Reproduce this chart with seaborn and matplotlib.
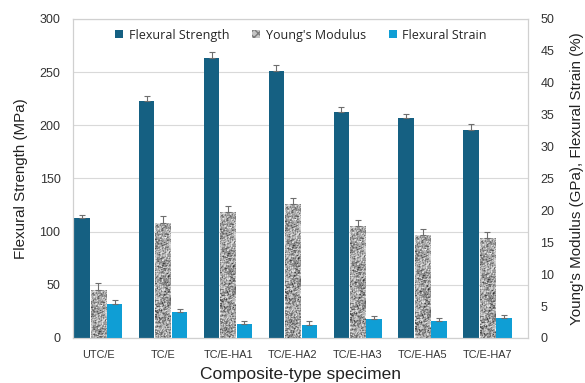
import numpy as np
import pandas as pd
import matplotlib
matplotlib.use("Agg")
import matplotlib.pyplot as plt
import seaborn as sns
from matplotlib.patches import Patch

# Mechanical properties of the composite specimens
specimens = ["UTC/E", "TC/E", "TC/E-HA1", "TC/E-HA2", "TC/E-HA3", "TC/E-HA5", "TC/E-HA7"]
flex_strength = [113, 223, 263, 251, 213, 207, 196]          # MPa
flex_strength_err = [2.5, 4.5, 5.5, 5.5, 4.0, 4.0, 5.0]
youngs_modulus = [7.5, 18.1, 19.7, 21.0, 17.5, 16.2, 15.6]    # GPa
youngs_modulus_err = [1.1, 1.1, 1.0, 1.0, 1.05, 0.95, 1.0]
flex_strain = [5.4, 4.0, 2.2, 2.1, 2.9, 2.6, 3.1]            # %
flex_strain_err = [0.6, 0.55, 0.5, 0.5, 0.5, 0.5, 0.55]

props = ["Flexural Strength", "Young's Modulus", "Flexural Strain"]
colors = {"Flexural Strength": "#156082", "Young's Modulus": "#b4b4b4",
          "Flexural Strain": "#0f9ed5"}

df = pd.concat([
    pd.DataFrame({"Specimen": specimens, "Value": flex_strength, "Err": flex_strength_err,
                  "Property": props[0]}),
    pd.DataFrame({"Specimen": specimens, "Value": youngs_modulus, "Err": youngs_modulus_err,
                  "Property": props[1]}),
    pd.DataFrame({"Specimen": specimens, "Value": flex_strain, "Err": flex_strain_err,
                  "Property": props[2]}),
], ignore_index=True)

sns.set_style("white")
plt.rcParams["font.family"] = ["Liberation Sans", "DejaVu Sans"]

fig = plt.figure(figsize=(5.85, 3.83), dpi=100)
ax = fig.add_axes([0.1248, 0.1175, 0.7778, 0.8329])
ax2 = ax.twinx()

# Draw the full grouped layout on both axes so the dodge positions agree,
# then keep only the series that belong to each y scale.
common = dict(x="Specimen", y="Value", hue="Property", hue_order=props, order=specimens,
              palette=colors, width=0.76, gap=0.06, errorbar=None, legend=False,
              saturation=1, linewidth=0)
sns.barplot(data=df, ax=ax, **common)
sns.barplot(data=df, ax=ax2, **common)

keep = {ax: [props[0]], ax2: [props[1], props[2]]}
lookup = {(r.Specimen, r.Property): r.Err for r in df.itertuples()}

# granite-like fill for the modulus bars (roughly one grain per pixel)
rng = np.random.default_rng(7)
grain = rng.normal(size=(400, 16))
grain = (grain + 0.35 * np.roll(grain, 1, axis=0) + 0.35 * np.roll(grain, 1, axis=1)) / 1.2

for axis in (ax, ax2):
    containers = list(axis.containers)
    for prop, cont in zip(props, containers):
        if prop not in keep[axis]:
            for bar in cont:
                bar.remove()
            continue
        for spec, bar in zip(specimens, cont):
            xc = bar.get_x() + bar.get_width() / 2
            h = bar.get_height()
            if prop == "Young's Modulus":
                rows = max(int(h * 6.4), 2)
                im = axis.imshow(grain[:rows], cmap="Greys", vmin=-3.6, vmax=4.0,
                                 extent=(bar.get_x(), bar.get_x() + bar.get_width(), 0, h),
                                 aspect="auto", interpolation="nearest",
                                 zorder=bar.get_zorder() + 0.1)
                im.set_clip_path(bar)
            axis.errorbar(xc, h, yerr=[[0], [lookup[(spec, prop)]]], fmt="none",
                          ecolor="#6e6e6e", elinewidth=0.8, capsize=2.5, capthick=0.8,
                          zorder=5)

ax.set_xlim(-0.39, 6.625)
ax.set_ylim(0, 300)
ax.set_yticks(np.arange(0, 301, 50))
ax2.set_ylim(0, 50)
ax2.set_yticks(np.arange(0, 51, 5))

ax.set_axisbelow(True)
ax.yaxis.grid(True, color="#d9d9d9", linewidth=0.8)
ax2.grid(False)

for a in (ax, ax2):
    a.tick_params(length=0, labelsize=9, colors="#333333", pad=9)
    for s in a.spines.values():
        s.set_color("#d0d0d0")
        s.set_linewidth(0.8)
ax.tick_params(axis="x", labelsize=7.8, pad=9)

ax.set_xlabel("Composite-type specimen", fontsize=12.5, color="#222222", labelpad=5)
ax.set_ylabel("Flexural Strength (MPa)", fontsize=10.9, color="#222222", labelpad=8)
ax2.set_ylabel("Young's Modulus (GPa), Flexural Strain (%)", fontsize=10.9,
               color="#222222", labelpad=11)

handles = [Patch(facecolor=colors[props[0]], linewidth=0),
           Patch(facecolor="#c4c4c4", edgecolor="#7a7a7a", hatch="xxxx", linewidth=0),
           Patch(facecolor=colors[props[2]], linewidth=0)]
fig.legend(handles, props, loc="center", bbox_to_anchor=(301 / 585, 0.9086), ncol=3,
           frameon=False, handlelength=0.64, handleheight=0.64, handletextpad=0.42,
           columnspacing=1.85, prop={"family": ["Open Sans", "DejaVu Sans"], "size": 9})

fig.savefig("out.png", dpi=100)
